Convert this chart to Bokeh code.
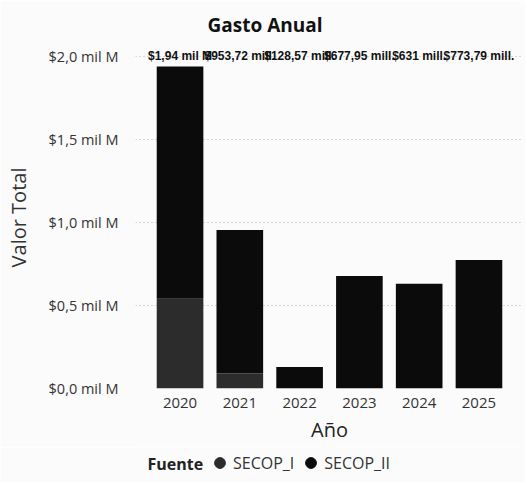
from bokeh.plotting import figure
from bokeh.layouts import column
from bokeh.models import (ColumnDataSource, FixedTicker, CustomJSTickFormatter,
                          Legend, LegendItem, Title, FactorRange, Range1d, Label)
from bokeh.core.properties import value
from bokeh.embed import file_html
from bokeh.resources import INLINE

# ---- data ----
years = ["2020", "2021", "2022", "2023", "2024", "2025"]
secop_i = [0.54, 0.09, 0.0, 0.0, 0.0, 0.0]          # mil M (billones)
secop_ii = [1.40, 0.864, 0.129, 0.678, 0.631, 0.774]
total_labels = ["$1,94 mil M", "$953,72 mill.", "$128,57 mill.",
                "$677,95 mill.", "$631 mill.", "$773,79 mill."]
y_ticks = [0.0, 0.5, 1.0, 1.5, 2.0]
series = ["SECOP_I", "SECOP_II"]
colors = ["#2c2c2c", "#0b0b0b"]

FONT = "Open Sans"
BG = "#fbfbfb"
W = 525
LEFT, RIGHT = 135, 2

src = ColumnDataSource(dict(year=years, SECOP_I=secop_i, SECOP_II=secop_ii,
                            lab=total_labels, top=[max(y_ticks)] * len(years)))

p = figure(width=W, height=447, output_backend="svg", toolbar_location=None,
           x_range=FactorRange(*years, range_padding=0.245, range_padding_units="absolute"),
           y_range=Range1d(0, 2.06),
           min_border_left=LEFT, min_border_right=RIGHT, min_border_top=46, min_border_bottom=59,
           background_fill_color=BG, border_fill_color=BG, outline_line_color=None)

p.vbar_stack(series, x="year", width=0.78, color=colors, source=src, line_color=None)

p.text(x="year", y="top", text="lab", source=src, text_align="center",
       text_baseline="middle", text_font=value("Liberation Sans"),
       text_font_style="bold", text_font_size="12px", text_color="#111111")

# title
t = Title(text="Gasto Anual", align="left", offset=72, text_font=FONT,
          text_font_size="19px", text_font_style="bold", text_color="#111111",
          standoff=18)
p.add_layout(t, "above")

# y axis
p.yaxis.ticker = FixedTicker(ticks=y_ticks)
p.yaxis.formatter = CustomJSTickFormatter(
    code="return '$' + tick.toFixed(1).replace('.', ',') + ' mil M';")
p.yaxis.axis_label = "Valor Total"
p.yaxis.axis_label_text_font = FONT
p.yaxis.axis_label_text_font_style = "normal"
p.yaxis.axis_label_text_font_size = "20px"
p.yaxis.axis_label_text_color = "#333333"
p.yaxis.axis_label_standoff = 14
p.yaxis.major_label_text_font = FONT
p.yaxis.major_label_text_font_size = "14.5px"
p.yaxis.major_label_text_color = "#333333"
p.yaxis.major_tick_out = 0
p.yaxis.major_tick_in = 0
p.yaxis.major_label_standoff = 17
p.yaxis.axis_line_color = None
p.yaxis.major_tick_line_color = None
p.yaxis.minor_tick_line_color = None

# x axis
p.xaxis.axis_label = "Año"
p.xaxis.axis_label_text_font = FONT
p.xaxis.axis_label_text_font_style = "normal"
p.xaxis.axis_label_text_font_size = "20px"
p.xaxis.axis_label_text_color = "#222222"
p.xaxis.axis_label_standoff = 5
p.xaxis.major_label_text_font = FONT
p.xaxis.major_label_text_font_size = "15px"
p.xaxis.major_label_text_color = "#333333"
p.xaxis.major_tick_out = 0
p.xaxis.major_tick_in = 0
p.xaxis.major_label_standoff = 9
p.xaxis.axis_line_color = None
p.xaxis.major_tick_line_color = None
p.xaxis.minor_tick_line_color = None

p.xgrid.grid_line_color = None
p.ygrid.grid_line_color = "#b5b5b5"
p.ygrid.grid_line_dash = "1 3"
p.ygrid.grid_line_width = 1

# ---- legend strip (frame aligned with the chart above) ----
LH = 35
q = figure(width=W, height=LH, output_backend="svg", toolbar_location=None,
           x_range=Range1d(LEFT, W - RIGHT), y_range=Range1d(0, LH),
           min_border_left=LEFT, min_border_right=RIGHT, min_border_top=0, min_border_bottom=0,
           background_fill_color=BG, border_fill_color=BG, outline_line_color=None)
q.axis.visible = False
q.grid.visible = False

nan = float("nan")
items = []
for name, c in zip(series, colors):
    r = q.scatter(x=[nan], y=[nan], marker="circle", size=12, color=c)
    items.append(LegendItem(label=name, renderers=[r]))
leg = Legend(items=items, orientation="horizontal", location=(206 - LEFT, 6),
             label_text_font=FONT, label_text_font_size="16px",
             label_text_color="#333333", label_standoff=0,
             glyph_width=27, glyph_height=27, spacing=3, padding=0, margin=0,
             background_fill_alpha=0, border_line_color=None)
q.add_layout(leg, "center")

q.add_layout(Label(x=147, y=19, text="Fuente",
                   text_font=FONT, text_font_style="bold", text_font_size="16px",
                   text_color="#222222", text_baseline="middle"))

layout = column(p, q, spacing=0)
open("out.html", "w").write(file_html(layout, INLINE))
